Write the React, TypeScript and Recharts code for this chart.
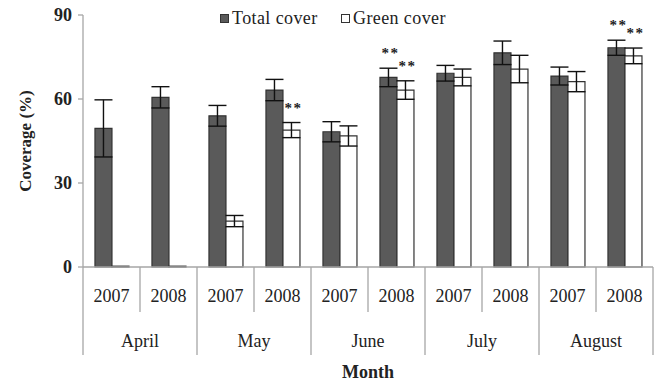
import React from "react";
import { BarChart, Bar, XAxis, YAxis, ErrorBar, LabelList, Label } from "recharts";

// Coverage by sampling month and year, mean ± SE
const MONTHS = ["April", "May", "June", "July", "August"];
const YEARS = ["2007", "2008"];
const TOTAL_COVER = [49.5, 60.6, 54.0, 63.2, 48.3, 67.7, 69.2, 76.5, 68.2, 78.3];
const TOTAL_ERR = [10.2, 3.8, 3.7, 3.8, 3.6, 3.3, 2.8, 4.2, 3.2, 2.7];
const GREEN_COVER = [0.3, 0.3, 16.4, 48.9, 46.8, 63.2, 67.7, 70.7, 66.2, 75.4];
const GREEN_ERR = [0, 0, 2.0, 2.7, 3.6, 3.3, 3.0, 4.9, 3.6, 2.8];
// significance markers above bars
const TOTAL_SIG = ["", "", "", "", "", "**", "", "", "", "**"];
const GREEN_SIG = ["", "", "", "**", "", "**", "", "", "", "**"];
const Y_TICKS = [0, 30, 60, 90];

const data = TOTAL_COVER.map((t, i) => ({
  year: YEARS[i % 2],
  month: MONTHS[Math.floor(i / 2)],
  total: t,
  totalErr: TOTAL_ERR[i],
  totalSig: TOTAL_SIG[i],
  green: GREEN_COVER[i],
  greenErr: GREEN_ERR[i],
  greenSig: GREEN_SIG[i],
}));

const FONT = "'Liberation Serif', 'DejaVu Serif', serif";
const AXIS = "#a6a6a6";

// two-row category axis: year under each bar pair, month under each year pair
function YearTick(props: any) {
  const { x, y, payload, index } = props;
  const half = payload?.offset ?? 28.5;
  const left = x - half;
  const isFirstOfMonth = index % 2 === 0;
  const isLast = index === data.length - 1;
  return (
    <g>
      <line x1={left} x2={left} y1={y} y2={y + (isFirstOfMonth ? 88 : 45)} stroke={AXIS} strokeWidth={1.3} />
      {isLast && <line x1={x + half} x2={x + half} y1={y} y2={y + 88} stroke={AXIS} strokeWidth={1.3} />}
      <text x={x} y={y + 35} textAnchor="middle" fontFamily={FONT} fontSize={18} fill="#222">
        {payload.value}
      </text>
      {isFirstOfMonth && (
        <text x={x + half} y={y + 80} textAnchor="middle" fontFamily={FONT} fontSize={18} fill="#222">
          {data[index].month}
        </text>
      )}
    </g>
  );
}

function sigLabel(values: number[], errs: number[]) {
  return (props: any) => {
    const { x, y, width, height, value, index } = props;
    if (!value) return null;
    const ppu = values[index] ? height / values[index] : 0;
    const errTop = y - errs[index] * ppu;
    return (
      <text
        x={x + width / 2 + 2}
        y={errTop - 10}
        textAnchor="middle"
        fontFamily={FONT}
        fontSize={15}
        fontWeight="bold"
        letterSpacing={1.5}
        fill="#222"
      >
        {value}
      </text>
    );
  };
}

function LegendItem({ left, fill, text }: { left: number; fill: string; text: string }) {
  return (
    <div
      style={{
        position: "absolute",
        left,
        top: 8,
        display: "flex",
        alignItems: "center",
        fontFamily: FONT,
        fontSize: 18,
        letterSpacing: 0.4,
        color: "#222",
        whiteSpace: "nowrap",
      }}
    >
      <span
        style={{
          display: "inline-block",
          width: 7,
          height: 7,
          background: fill,
          border: "1px solid #333",
          marginRight: 3,
        }}
      />
      {text}
    </div>
  );
}

export default function App() {
  return (
    <div style={{ position: "absolute", left: 0, top: 0, width: 654, height: 381, background: "#fff" }}>
      <BarChart
        width={654}
        height={381}
        data={data}
        margin={{ top: 15, right: 1, bottom: 0, left: 0 }}
        barCategoryGap="21%"
        barGap={0}
      >
        <XAxis
          dataKey="year"
          interval={0}
          height={114}
          axisLine={{ stroke: AXIS, strokeWidth: 1.3 }}
          tickLine={false}
          tickSize={0}
          tickMargin={0}
          tick={<YearTick />}
        >
          <Label
            value="Month"
            position="insideBottom"
            offset={3}
            style={{ fontFamily: FONT, fontSize: 18, fontWeight: "bold", fill: "#222" }}
          />
        </XAxis>
        <YAxis
          domain={[0, 90]}
          ticks={Y_TICKS}
          width={83}
          axisLine={{ stroke: AXIS, strokeWidth: 1.3 }}
          tickLine={{ stroke: AXIS, strokeWidth: 1.3 }}
          tickSize={5}
          tickMargin={6}
          tick={{ fontFamily: FONT, fontSize: 18, fontWeight: "bold", fill: "#222" }}
        >
          <Label
            content={(p: any) => {
              const vb = p.viewBox;
              const cx = vb.x + 25;
              const cy = vb.y + vb.height / 2;
              return (
                <text
                  x={cx}
                  y={cy}
                  transform={`rotate(-90, ${cx}, ${cy})`}
                  textAnchor="middle"
                  dominantBaseline="central"
                  fontFamily={FONT}
                  fontSize={17}
                  fontWeight="bold"
                  fill="#222"
                >
                  Coverage (%)
                </text>
              );
            }}
          />
        </YAxis>
        <Bar dataKey="total" fill="#5a5a5a" stroke="#333" strokeWidth={1.2} isAnimationActive={false}>
          <ErrorBar dataKey="totalErr" width={9} stroke="#111" strokeWidth={1.4} direction="y" />
          <LabelList dataKey="totalSig" content={sigLabel(TOTAL_COVER, TOTAL_ERR)} />
        </Bar>
        <Bar dataKey="green" fill="#ffffff" stroke="#333" strokeWidth={1.2} isAnimationActive={false}>
          <ErrorBar dataKey="greenErr" width={9} stroke="#111" strokeWidth={1.4} direction="y" />
          <LabelList dataKey="greenSig" content={sigLabel(GREEN_COVER, GREEN_ERR)} />
        </Bar>
      </BarChart>
      <LegendItem left={220} fill="#5a5a5a" text="Total cover" />
      <LegendItem left={341} fill="#ffffff" text="Green cover" />
    </div>
  );
}
